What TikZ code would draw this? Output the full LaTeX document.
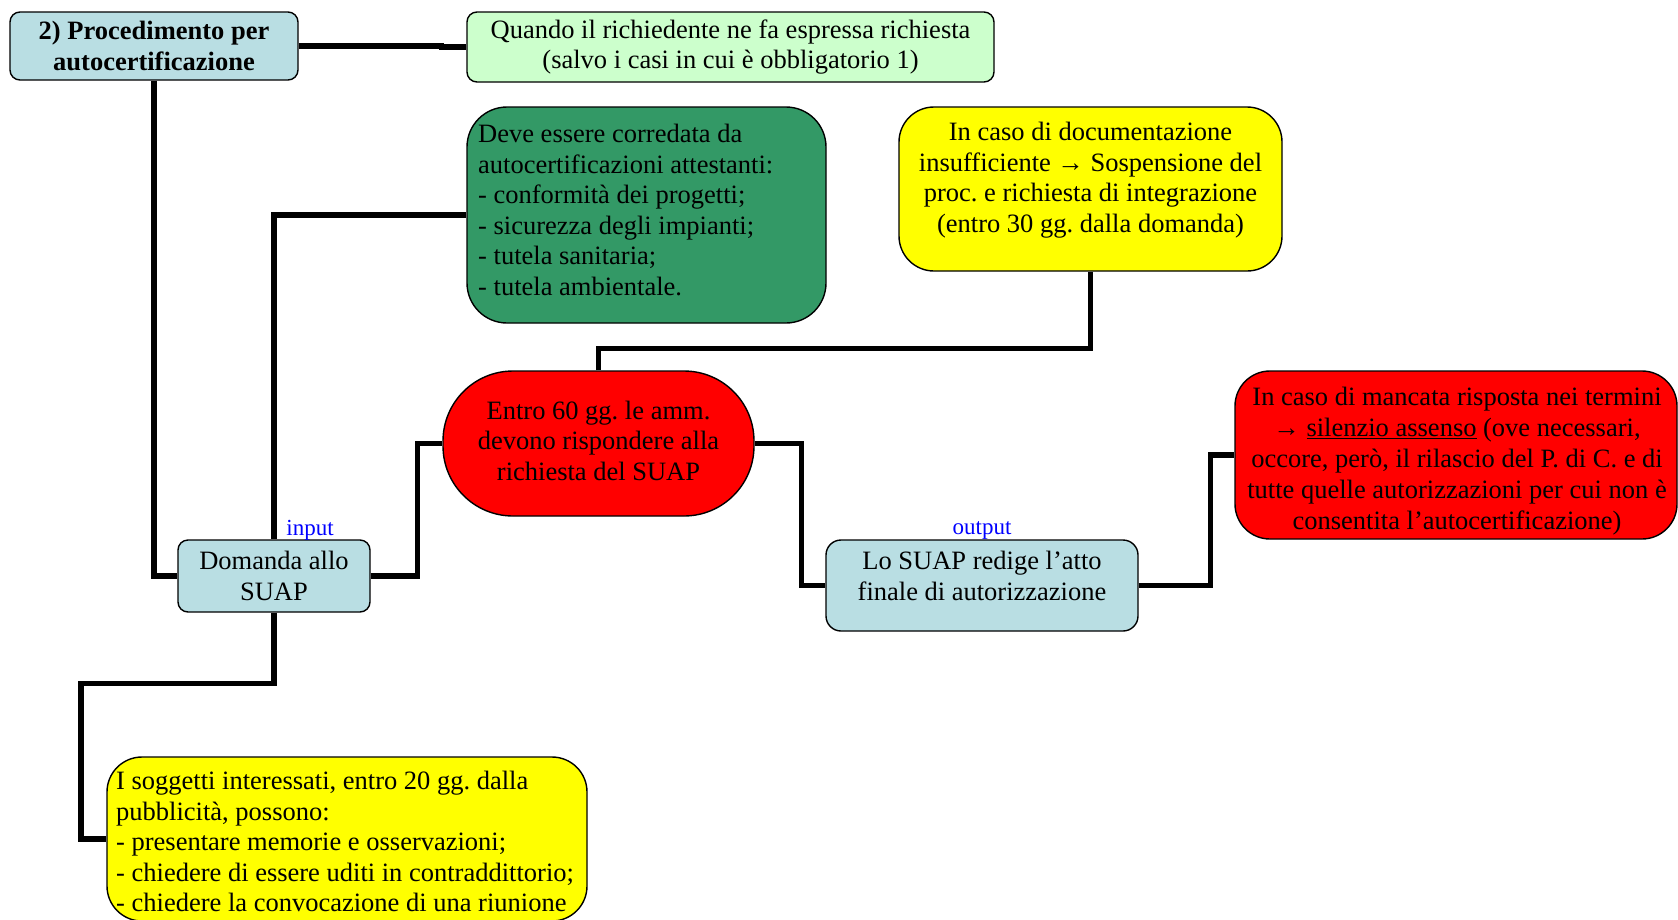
\documentclass[tikz,border=0pt]{standalone}
\usepackage{fontspec}
\setmainfont{Liberation Serif}
\frenchspacing
\definecolor{lblue}{RGB}{185,222,227}
\definecolor{lgreen}{RGB}{204,255,204}
\definecolor{dgreen}{RGB}{51,153,102}
\definecolor{myyellow}{RGB}{255,255,0}
\definecolor{myred}{RGB}{255,0,0}
\definecolor{myblue}{RGB}{0,0,255}
\begin{document}
\begin{tikzpicture}[x=1pt,y=-1pt,
  box/.style={draw=black, line width=1.4pt, rounded corners=#1, inner sep=0pt},
  box/.default=10pt,
  txt/.style={font=\fontsize{26.5}{30.5}\selectfont, align=center, inner sep=0pt},
  ltxt/.style={font=\fontsize{26.5}{30.5}\selectfont, align=left, inner sep=0pt},
  lbl/.style={font=\fontsize{23}{26}\selectfont, text=myblue, inner sep=0pt},
  conn/.style={line width=5.5pt, line join=miter, draw=black}]
\useasboundingbox (0,0) rectangle (1678,919);

% boxes
\node[box=10pt, fill=lblue, minimum width=288pt, minimum height=68pt, txt, font={\fontsize{26.5}{30.5}\selectfont\bfseries}] (title) at (154,46) {2) Procedimento per\\autocertificazione};
\node[box=10pt, fill=lgreen, minimum width=527pt, minimum height=70pt, txt] (quando) at (730.5,47) {Quando il richiedente ne fa espressa richiesta\\(salvo i casi in cui è obbligatorio 1)};
\node[box=40pt, fill=dgreen, minimum width=359pt, minimum height=216pt] (deve) at (646.5,215) {};
\node[ltxt, anchor=north west] (devet) at (478,124) {Deve essere corredata da\\autocertificazioni attestanti:\\- conformità dei progetti;\\- sicurezza degli impianti;\\- tutela sanitaria;\\- tutela ambientale.};
\node[box=35pt, fill=myyellow, minimum width=383pt, minimum height=164pt] (ytop) at (1090.5,189) {};
\node[txt, anchor=north] (ytopt) at (1090.5,122) {In caso di documentazione\\insufficiente → Sospensione del\\proc. e richiesta di integrazione\\(entro 30 gg. dalla domanda)};
\node[box=70pt, fill=myred, minimum width=311pt, minimum height=145pt] (stadium) at (598.5,443.5) {};
\node[txt] (stadiumt) at (598.5,440.5) {Entro 60 gg. le amm.\\devono rispondere alla\\richiesta del SUAP};
\node[box=35pt, fill=myred, minimum width=442pt, minimum height=168pt] (redr) at (1456,455) {};
\node[txt, font={\fontsize{26.5}{31}\selectfont}] (redrt) at (1457,461) {In caso di mancata risposta nei termini\\→ \underline{silenzio assenso} (ove necessari,\\occore, però, il rilascio del P. di C. e di\\tutte quelle autorizzazioni per cui non è\\consentita l’autocertificazione)};
\node[box=10pt, fill=lblue, minimum width=192pt, minimum height=72pt, txt] (dom) at (274,576) {Domanda allo\\SUAP};
\node[box=15pt, fill=lblue, minimum width=312pt, minimum height=91pt] (suap) at (982,585.5) {};
\node[txt, anchor=north] (suapt) at (982,551) {Lo SUAP redige l’atto\\finale di autorizzazione};
\node[box=35pt, fill=myyellow, minimum width=480pt, minimum height=164pt] (yb) at (347,839) {};
\node[ltxt, anchor=north west] (ybt) at (116,771) {I soggetti interessati, entro 20 gg. dalla\\pubblicità, possono:\\- presentare memorie e osservazioni;\\- chiedere di essere uditi in contraddittorio;\\- chiedere la convocazione di una riunione};

% labels
\node[lbl] (inlbl) at (310,530) {input};
\node[lbl] (outlbl) at (982,530) {output};

% connectors
\coordinate (ybk) at (81,839);
\draw[conn] (title.east) -- ++(143,0) |- (quando.west);
\draw[conn] (title.south) |- (dom.west);
\draw[conn] (dom.north) |- (deve.west);
\draw[conn] (dom.east) -- ++(47,0) |- (stadium.west);
\draw[conn] (stadium.north) -- ++(0,-22) -| (ytop.south);
\draw[conn] (stadium.east) -- ++(47,0) |- (suap.west);
\draw[conn] (suap.east) -- ++(72,0) |- (redr.west);
\draw[conn] (dom.south) -- ++(0,71) -| (ybk) -- (yb.west);
\end{tikzpicture}
\end{document}
